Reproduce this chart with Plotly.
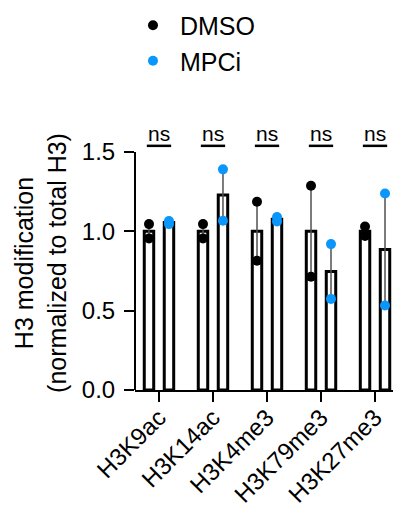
import numpy as np
import plotly.graph_objects as go

categories = ["H3K9ac", "H3K14ac", "H3K4me3", "H3K79me3", "H3K27me3"]
dmso_points = [[1.045, 0.955], [1.045, 0.955], [1.186, 0.814], [1.287, 0.713], [1.03, 0.97]]
mpci_points = [[1.045, 1.065], [1.39, 1.066], [1.062, 1.09], [0.919, 0.574], [1.238, 0.532]]
sig_labels = ["ns", "ns", "ns", "ns", "ns"]
y_ticks = [0.0, 0.5, 1.0, 1.5]

FONT = "Liberation Sans, Arial, sans-serif"
BLUE = "#0A96FA"
OFF = 0.185
BW = 0.175

idx = np.arange(len(categories))
fig = go.Figure()

series = [("DMSO", dmso_points, "black", -OFF), ("MPCi", mpci_points, BLUE, OFF)]
for name, pts, col, off in series:
    arr = np.array(pts)
    mean = arr.mean(axis=1)
    sem = arr.std(axis=1, ddof=1) / np.sqrt(arr.shape[1])
    fig.add_trace(go.Bar(
        x=idx + off, y=mean, width=BW, showlegend=False,
        marker=dict(color="white", line=dict(color="black", width=3)),
        error_y=dict(type="data", array=sem, visible=True, color="#505050",
                     thickness=1.5, width=0),
    ))

for gi, (name, pts, col, off) in enumerate(series):
    arr = np.array(pts)
    xs = np.repeat(idx + off, arr.shape[1])
    fig.add_trace(go.Scatter(
        x=xs, y=arr.flatten(), mode="markers", name=name,
        legendgroup=name,
        marker=dict(color=col, size=10, line=dict(width=0)),
        cliponaxis=False,
    ))

# significance lines and labels
for i, lab in enumerate(sig_labels):
    fig.add_shape(type="line", xref="x", yref="y",
                  x0=i - 0.225, x1=i + 0.225, y0=1.538, y1=1.538,
                  line=dict(color="black", width=2.5))
    fig.add_annotation(x=i, y=1.53, xref="x", yref="y", text=lab,
                       showarrow=False, yanchor="bottom",
                       font=dict(family=FONT, size=21, color="black"))

# y axis line only up to 1.5
fig.add_shape(type="line", xref="paper", yref="y", x0=0, x1=0, y0=0, y1=1.5,
              line=dict(color="black", width=2))

fig.update_layout(
    width=393, height=510,
    margin=dict(l=135, r=0, t=136, b=120, autoexpand=False),
    plot_bgcolor="white", paper_bgcolor="white",
    barmode="overlay",
    font=dict(family=FONT, size=24, color="black"),
    showlegend=True,
    legend=dict(x=-0.035, xanchor="left", y=0.995, yref="container", yanchor="top",
                font=dict(family=FONT, size=25, color="black"),
                itemwidth=44,
                tracegroupgap=0, bgcolor="rgba(0,0,0,0)"),
    xaxis=dict(range=[-0.444, 4.333], tickvals=idx, ticktext=categories,
               tickangle=-45, ticks="outside", ticklen=10, tickwidth=2,
               tickcolor="black", showline=True, linewidth=2, linecolor="black",
               showgrid=False, zeroline=False, automargin=False,
               ticklabelstandoff=-8,
               tickfont=dict(family=FONT, size=24, color="black")),
    yaxis=dict(range=[0, 1.6], tickvals=y_ticks, tickformat=".1f",
               ticks="outside", ticklen=10, tickwidth=2, tickcolor="black",
               showline=False, showgrid=False, zeroline=False, automargin=False,
               ticklabelstandoff=4,
               tickfont=dict(family=FONT, size=24, color="black"),
               title=dict(text="H3 modification<br>(normalized to total H3)",
                          font=dict(family=FONT, size=25, color="black"),
                          standoff=8)),
)

fig.write_html("out.html")
